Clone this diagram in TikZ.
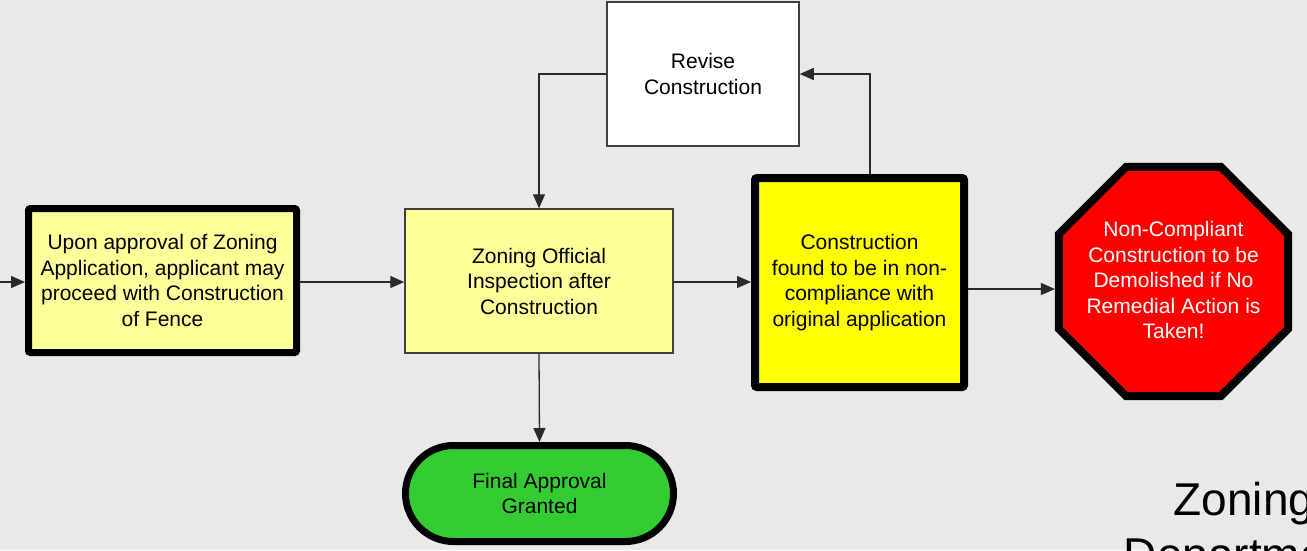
\documentclass[tikz,border=0pt]{standalone}
\usepackage{fontspec}
\setmainfont{Liberation Sans}
\usetikzlibrary{arrows.meta,shapes.geometric}
\definecolor{bgc}{HTML}{E9E9E9}
\definecolor{lyel}{HTML}{FFFF99}
\definecolor{yel}{HTML}{FFFF00}
\definecolor{stopred}{HTML}{FF0000}
\definecolor{okgreen}{HTML}{33CC33}
\definecolor{linec}{HTML}{2A2A2A}
\tikzset{
  txt/.style={font=\fontsize{21}{25.5}\selectfont, align=center, text=black},
  thickbox/.style={draw=black, line width=7pt, rounded corners=2pt, inner sep=0pt},
  thinbox/.style={draw=black!75, line width=1.5pt, inner sep=0pt},
  arr/.style={draw=linec, line width=1.3pt, -{Triangle[length=14pt,width=12pt]}},
}
\begin{document}
\begin{tikzpicture}[x=1pt,y=-1pt]
\useasboundingbox (0,0) rectangle (1307,550);
\clip (0,0) rectangle (1307,550);
\fill[bgc] (0,0) rectangle (1307,550);

\node[thickbox, fill=lyel, minimum width=268pt, minimum height=144pt, txt] (b1) at (162.5,280.5)
  {Upon approval of Zoning\\Application, applicant may\\proceed with Construction\\of Fence};
\node[thinbox, fill=lyel, minimum width=268pt, minimum height=144pt, txt] (b2) at (539,281)
  {Zoning Official\\Inspection after\\Construction};
\node[thickbox, line width=8pt, fill=yel, minimum width=209pt, minimum height=209pt, txt] (b3) at (859.5,282.5)
  {Construction\\found to be in non-\\compliance with\\original application};
\node[draw=black, line width=8pt, fill=stopred, regular polygon, regular polygon sides=8,
  minimum size=248pt, inner sep=0pt] (oct) at (1173.5,281.5) {};
\node[txt, text=white] (octtxt) at (1173.5,280)
  {Non-Compliant\\Construction to be\\Demolished if No\\Remedial Action is\\Taken!};
\node[thinbox, fill=white, minimum width=192pt, minimum height=144pt, txt] (rev) at (703,74)
  {Revise\\Construction};
\node[draw=black, line width=7pt, fill=okgreen, minimum width=268pt, minimum height=96pt,
  rounded corners=48pt, inner sep=0pt, txt] (fin) at (539.5,493.5)
  {Final Approval\\Granted};

\node[font=\fontsize{46}{55}\selectfont, align=center, anchor=base] (zd) at (1244,570)
  {Zoning\\Department};

\coordinate (start) at (0,282);
\draw[arr] (start) -- (b1.west |- start);
\draw[arr] (b1.east |- start) -- (b2.west |- start);
\draw[arr] (b2.east |- start) -- (b3.west |- start);
\draw[arr] ([yshift=-6.5pt]b3.east) -- ([yshift=-6.5pt]b3.east -| oct.west);
\draw[arr] ([xshift=10.5pt]b3.north) |- (rev.east);
\draw[arr] (rev.west) -| (b2.north);
\draw[arr] (b2.south) -- (fin.north);
\end{tikzpicture}
\end{document}
